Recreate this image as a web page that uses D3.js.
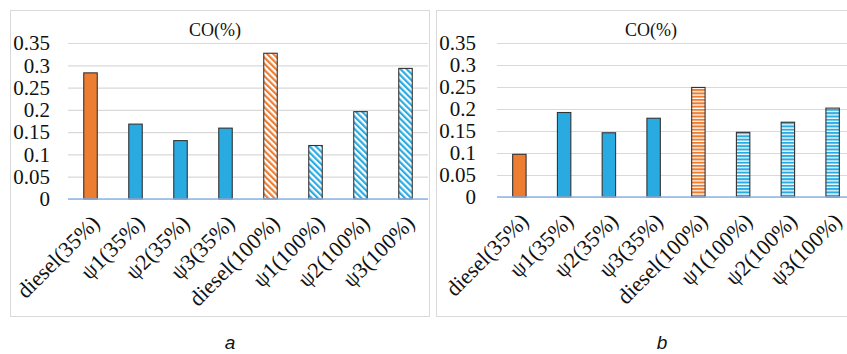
<!DOCTYPE html>
<html>
<head>
<meta charset="utf-8">
<script src="https://cdn.jsdelivr.net/npm/d3@7"></script>
<style>
  body { margin: 0; background: #fff; }
  svg { display: block; }
</style>
</head>
<body>
<svg width="847" height="354"></svg>
<script>
// data
var categories = ["diesel(35%)", "ψ1(35%)", "ψ2(35%)", "ψ3(35%)", "diesel(100%)", "ψ1(100%)", "ψ2(100%)", "ψ3(100%)"];
var fuel = ["diesel", "psi", "psi", "psi", "diesel", "psi", "psi", "psi"];
var load = [35, 35, 35, 35, 100, 100, 100, 100];
var coA = [0.283, 0.168, 0.131, 0.159, 0.327, 0.120, 0.196, 0.293];
var coB = [0.097, 0.192, 0.146, 0.179, 0.249, 0.147, 0.170, 0.202];
var yTicks = [0, 0.05, 0.1, 0.15, 0.2, 0.25, 0.3, 0.35];

var orange = "#ED7D31";
var blue = "#29ABE2";
var serif = "'Liberation Serif', 'Times New Roman', serif";

var svg = d3.select("svg");
var defs = svg.append("defs");

// diagonal stripes for panel a
function diag(id, color) {
    var p = defs.append("pattern")
        .attr("id", id)
        .attr("patternUnits", "userSpaceOnUse")
        .attr("width", 4.4).attr("height", 4.4)
        .attr("patternTransform", "rotate(-45)");
    p.append("rect").attr("width", 4.4).attr("height", 4.4).attr("fill", "#fff");
    p.append("rect").attr("width", 2.2).attr("height", 4.4).attr("fill", color);
}
// horizontal stripes for panel b
function horiz(id, color) {
    var p = defs.append("pattern")
        .attr("id", id)
        .attr("patternUnits", "userSpaceOnUse")
        .attr("width", 4).attr("height", 3.3);
    p.append("rect").attr("width", 4).attr("height", 3.3).attr("fill", "#fff");
    p.append("rect").attr("width", 4).attr("height", 2).attr("fill", color);
}
diag("dOrange", orange);
diag("dBlue", blue);
horiz("hOrange", orange);
horiz("hBlue", blue);

function drawPanel(opt) {
    var g = svg.append("g");

    g.append("rect")
        .attr("x", opt.box[0] + 0.5).attr("y", 10.5)
        .attr("width", opt.box[1] - opt.box[0]).attr("height", 306)
        .attr("fill", "#fff")
        .attr("stroke", "#d9d9d9");

    var x = d3.scaleBand()
        .domain(categories)
        .range(opt.xRange)
        .paddingInner(0.7)
        .paddingOuter(0.35);

    var y = d3.scaleLinear()
        .domain([0, 0.35])
        .range(opt.yRange);

    var w = opt.xRange[1] - opt.xRange[0];

    // gridlines
    g.append("g")
        .attr("transform", "translate(" + opt.xRange[0] + ",0)")
        .call(d3.axisLeft(y).tickValues(yTicks).tickSize(-w).tickFormat(""))
        .call(a => a.select(".domain").remove())
        .call(a => a.selectAll("line").attr("stroke", "#d9d9d9").attr("stroke-width", 1.2));

    // tick labels
    g.append("g")
        .attr("transform", "translate(" + opt.xRange[0] + ",0)")
        .call(d3.axisLeft(y).tickValues(yTicks).tickSize(0).tickPadding(opt.pad).tickFormat(d => String(d)))
        .call(a => a.select(".domain").remove())
        .call(a => a.selectAll("text")
            .attr("font-family", serif)
            .attr("font-size", 21)
            .attr("fill", "#111"));

    g.selectAll(".bar")
        .data(opt.values)
        .join("rect")
        .attr("class", "bar")
        .attr("x", (d, i) => x(categories[i]))
        .attr("width", x.bandwidth())
        .attr("y", d => y(d))
        .attr("height", d => y(0) - y(d))
        .attr("fill", (d, i) => {
            var c = fuel[i] == "diesel" ? "Orange" : "Blue";
            if (load[i] == 35) return fuel[i] == "diesel" ? orange : blue;
            return "url(#" + opt.pattern + c + ")";
        })
        .attr("stroke", "#333")
        .attr("stroke-width", 1.1);

    // baseline
    g.append("line")
        .attr("x1", opt.xRange[0]).attr("x2", opt.xRange[1])
        .attr("y1", y(0)).attr("y2", y(0))
        .attr("stroke", "#8FB4E3")
        .attr("stroke-width", 1.3);

    // category labels
    g.selectAll(".xlab")
        .data(categories)
        .join("text")
        .attr("class", "xlab")
        .attr("transform", d => "translate(" + (x(d) + x.bandwidth() / 2 + 5) + "," + (y(0) + 20) + ") rotate(-45)")
        .attr("text-anchor", "end")
        .attr("dy", "0.35em")
        .attr("font-family", serif)
        .attr("font-size", 22)
        .attr("fill", "#111")
        .text(d => d);

    g.append("text")
        .attr("x", opt.titleX).attr("y", 36)
        .attr("text-anchor", "middle")
        .attr("font-family", serif)
        .attr("font-size", 18)
        .attr("fill", "#111")
        .text("CO(%)");

    svg.append("text")
        .attr("x", opt.letterX).attr("y", 349)
        .attr("text-anchor", "middle")
        .attr("font-family", "'Liberation Sans', Arial, sans-serif")
        .attr("font-style", "italic")
        .attr("font-size", 19)
        .attr("fill", "#111")
        .text(opt.letter);
}

drawPanel({
    box: [10, 429], xRange: [68, 428], yRange: [199, 43], pad: 18,
    values: coA, pattern: "d", titleX: 215, letterX: 230, letter: "a"
});
drawPanel({
    box: [436, 857], xRange: [497, 855], yRange: [197, 43], pad: 21,
    values: coB, pattern: "h", titleX: 651, letterX: 662, letter: "b"
});
</script>
</body>
</html>
